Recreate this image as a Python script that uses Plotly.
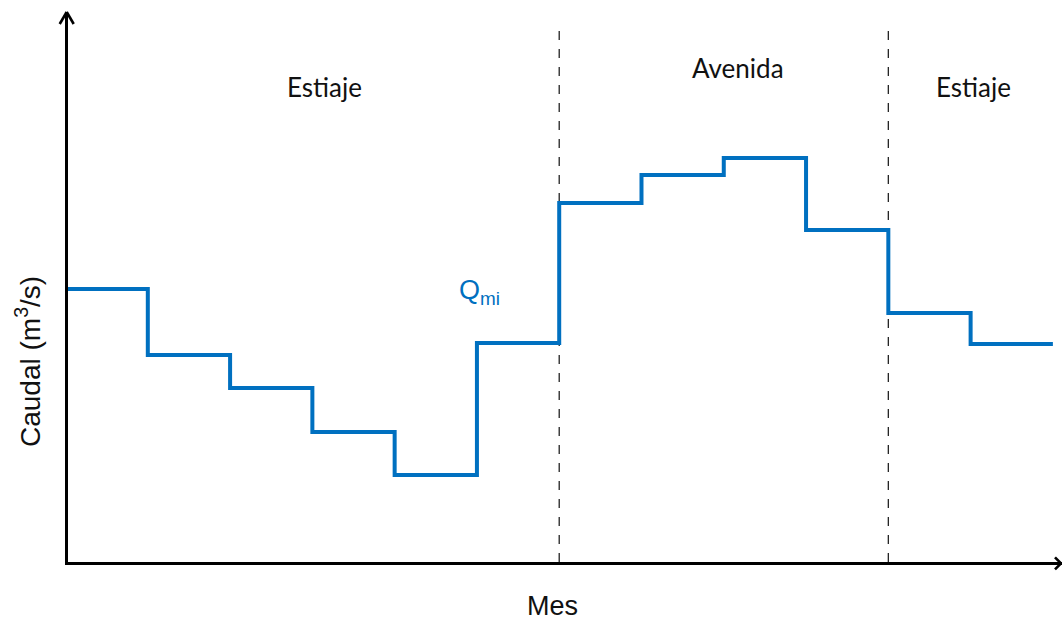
import plotly.graph_objects as go

months = list(range(1, 13))
caudal = [273, 207, 174, 130, 87, 219, 359, 387, 404, 332, 249, 218]
season_bounds = [6, 10]
season_labels = ["Estiaje", "Avenida", "Estiaje"]
season_x = [3.15, 8.17, 11.04]
season_y = [475, 494, 475]

W, H = 1062, 620
L, R, T, B = 68, 0, 12, 58
step_px = 82.28
xmin = 0.03
xmax = xmin + (W - L - R) / step_px
ymax = H - B - T  # data units = pixels above x axis
PW, PH = W - L - R, H - T - B

x_steps = [m - 1 for m in months] + [months[-1]]
y_steps = caudal + [caudal[-1]]

blue = "#0070C0"

fig = go.Figure()
fig.add_trace(go.Scatter(x=x_steps, y=y_steps, mode="lines",
                         line=dict(shape="hv", color=blue, width=4),
                         hoverinfo="skip", showlegend=False))

shapes = []
for b in season_bounds:
    shapes.append(dict(type="line", xref="x", yref="y", x0=b, x1=b, y0=0, y1=540,
                       line=dict(color="#222", width=1.3, dash="dash"), layer="below"))
# chevron arrowheads (pixel-sized, anchored at the axis ends)
ax_style = dict(color="black", width=2.6)
for dx in (-7, 7):
    shapes.append(dict(type="line", xref="paper", yref="paper", xsizemode="pixel", ysizemode="pixel",
                       xanchor=0, yanchor=1, x0=dx - 1.3, y0=-12, x1=-1.3, y1=0, line=ax_style))
for dy in (-6, 6):
    shapes.append(dict(type="line", xref="paper", yref="paper", xsizemode="pixel", ysizemode="pixel",
                       xanchor=1, yanchor=0, x0=-7, y0=dy - 1.3, x1=-1, y1=-1.3, line=ax_style))

annotations = []
for lab, sx, sy in zip(season_labels, season_x, season_y):
    annotations.append(dict(x=sx, y=sy, xref="x", yref="y", text=lab, showarrow=False,
                            font=dict(family="Lato", size=26, color="#111")))
annotations.append(dict(x=5.03, y=270, xref="x", yref="y", text="Q<sub>mi</sub>", showarrow=False,
                        font=dict(family="Liberation Sans, Arial", size=27, color=blue)))
# axis titles
annotations.append(dict(x=(552 - L) / PW, y=-(606 - (H - B)) / PH, xref="paper", yref="paper",
                        xanchor="center", yanchor="middle",
                        text="Mes", showarrow=False,
                        font=dict(family="Liberation Sans, Arial", size=27, color="#111")))
annotations.append(dict(x=-(L - 28) / PW, y=(H - B - 362) / PH, xref="paper", yref="paper",
                        xanchor="center", yanchor="middle",
                        text="Caudal (m<sup>3</sup>/s)", textangle=-90, showarrow=False,
                        font=dict(family="Liberation Sans, Arial", size=28, color="#111")))

fig.update_layout(
    width=W, height=H,
    margin=dict(l=L, r=R, t=T, b=B),
    paper_bgcolor="white", plot_bgcolor="white",
    shapes=shapes, annotations=annotations,
    xaxis=dict(range=[xmin, xmax], showgrid=False, zeroline=False, showticklabels=False, ticks="",
               showline=True, linecolor="black", linewidth=2.6, fixedrange=True),
    yaxis=dict(range=[0, ymax], showgrid=False, zeroline=False, showticklabels=False, ticks="",
               showline=True, linecolor="black", linewidth=2.6, fixedrange=True),
)

fig.write_html("out.html", config={"displayModeBar": False},
               post_script="document.body.style.margin='0';document.body.style.overflow='hidden';")
